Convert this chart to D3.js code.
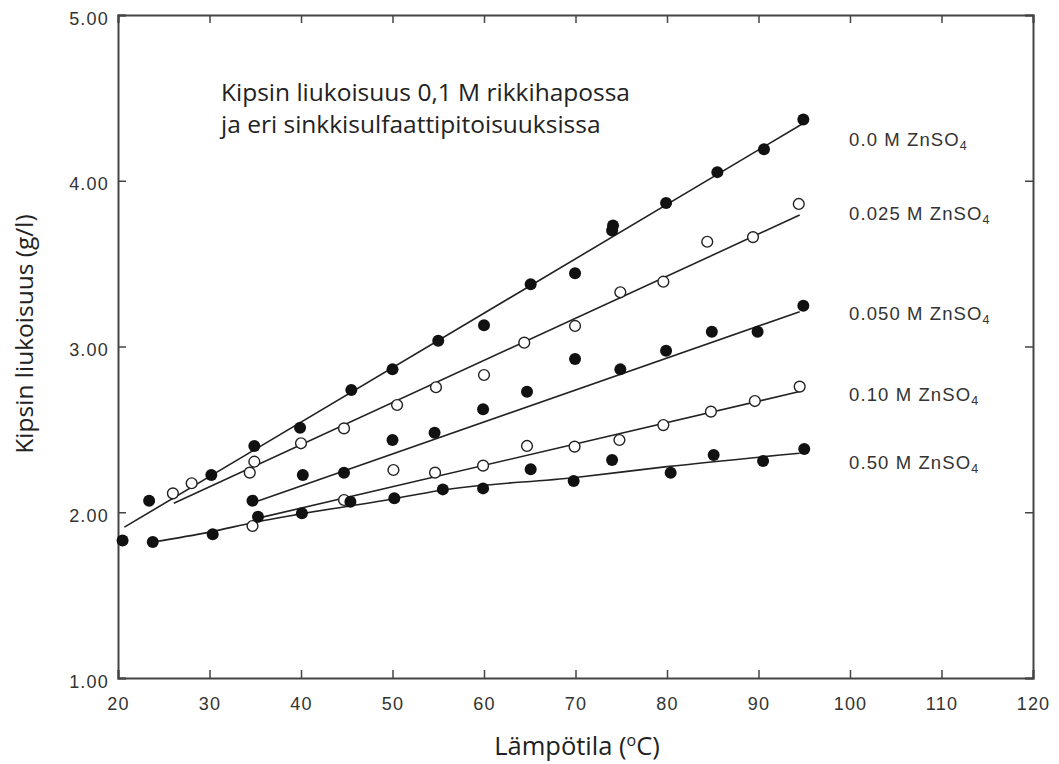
<!DOCTYPE html>
<html>
<head>
<meta charset="utf-8">
<script src="https://cdn.jsdelivr.net/npm/d3@7"></script>
<style>
  html, body { margin: 0; padding: 0; background: #fff; }
  svg { display: block; }
</style>
</head>
<body>
<svg id="chart" width="1059" height="764"></svg>
<script>
// ---- data ----
const xTicks = [20, 30, 40, 50, 60, 70, 80, 90, 100, 110, 120];
const yTicks = [1, 2, 3, 4, 5];
const yTickLabels = ["1.00", "2.00", "3.00", "4.00", "5.00"];

const seriesNames = ["0.0 M ZnSO", "0.025 M ZnSO", "0.050 M ZnSO", "0.10 M ZnSO", "0.50 M ZnSO"];
const seriesOpen = [false, true, false, true, false];
const labelValues = [4.25, 3.80, 3.20, 2.71, 2.30];

const s000 = [[23.4,2.07],[30.2,2.225],[34.9,2.40],[39.9,2.51],[45.5,2.738],[50.0,2.862],[55.0,3.035],
  [60.0,3.128],[65.1,3.375],[69.95,3.442],[74.0,3.70],[74.1,3.73],[79.9,3.866],[85.5,4.052],[90.6,4.19],[94.9,4.37]];
const s025 = [[26.0,2.114],[28.05,2.175],[34.4,2.239],[34.9,2.305],[40.0,2.416],[44.7,2.506],[50.5,2.647],
  [54.75,2.754],[60.0,2.828],[64.4,3.023],[69.95,3.124],[74.9,3.327],[79.6,3.391],[84.4,3.632],[89.4,3.66],[94.4,3.86]];
const s050 = [[34.7,2.07],[40.2,2.225],[44.7,2.239],[50.0,2.436],[54.6,2.48],[59.9,2.621],[64.7,2.727],
  [69.95,2.925],[74.9,2.862],[79.9,2.975],[84.9,3.089],[89.9,3.089],[94.9,3.246]];
const s100 = [[34.7,1.917],[44.7,2.074],[50.1,2.255],[54.65,2.239],[59.9,2.281],[64.7,2.40],[69.9,2.396],
  [74.8,2.436],[79.6,2.526],[84.8,2.607],[89.6,2.671],[94.5,2.758]];
const s500 = [[20.5,1.83],[23.8,1.82],[30.35,1.867],[35.3,1.973],[40.1,1.994],[45.4,2.064],[50.2,2.084],
  [55.5,2.138],[59.9,2.144],[65.1,2.259],[69.8,2.188],[74.0,2.315],[80.4,2.239],[85.1,2.345],[90.5,2.309],[95.0,2.382]];

const fit000 = [[20.7,1.91],[95.0,4.35]];
const fit025 = [[26.1,2.054],[94.5,3.793]];
const fit050 = [[35.3,2.068],[94.5,3.21]];
const fit100 = [[35.2,1.963],[94.5,2.728]];
const fit500 = [[23.8,1.82],[30,1.88],[35,1.94],[40,1.99],[50,2.08],[55,2.13],[70,2.21],[80,2.275],[94.5,2.356]];

const seriesPoints = [s000, s025, s050, s100, s500];
const seriesFits = [fit000, fit025, fit050, fit100, fit500];

const titleLines = ["Kipsin liukoisuus 0,1 M rikkihapossa", "ja eri sinkkisulfaattipitoisuuksissa"];

// ---- drawing ----
(function () {
const svg = d3.select("#chart");
const pL = 118, pR = 1033, pT = 15, pB = 678;
const x = d3.scaleLinear().domain([20, 120]).range([pL, pR]);
const y = d3.scaleLinear().domain([1, 5]).range([pB, pT]);

const axisColor = "#444";
const textColor = "#333";
const tickFont = "'Liberation Sans', Arial, sans-serif";

const gB = svg.append("g").attr("transform", `translate(0,${pB})`)
  .call(d3.axisBottom(x).tickValues(xTicks).tickSize(-8).tickPadding(19).tickFormat(d3.format("d")));
const gT = svg.append("g").attr("transform", `translate(0,${pT})`)
  .call(d3.axisTop(x).tickValues(xTicks).tickSize(-8).tickFormat(""));
const gL = svg.append("g").attr("transform", `translate(${pL},0)`)
  .call(d3.axisLeft(y).tickValues(yTicks).tickSize(-8).tickPadding(9).tickFormat((d, i) => yTickLabels[i]));
const gR = svg.append("g").attr("transform", `translate(${pR},0)`)
  .call(d3.axisRight(y).tickValues(yTicks).tickSize(-8).tickFormat(""));

[gB, gT, gL, gR].forEach(g => {
  g.select(".domain").attr("stroke", axisColor).attr("stroke-width", 2);
  g.selectAll(".tick line").attr("stroke", axisColor).attr("stroke-width", 1.5);
  g.selectAll(".tick text").attr("fill", textColor).attr("font-family", tickFont)
    .attr("font-size", 18).attr("letter-spacing", 1.2);
});
gL.selectAll(".tick text").attr("dy", "0.5em");

const line = d3.line().x(d => x(d[0])).y(d => y(d[1])).curve(d3.curveMonotoneX);
seriesFits.forEach(f => {
  svg.append("path").datum(f).attr("d", line)
    .attr("fill", "none").attr("stroke", "#222").attr("stroke-width", 1.6);
});

seriesPoints.forEach((pts, i) => {
  svg.append("g").selectAll("circle").data(pts).join("circle")
    .attr("cx", d => x(d[0])).attr("cy", d => y(d[1]))
    .attr("r", seriesOpen[i] ? 5.4 : 6)
    .attr("fill", seriesOpen[i] ? "#fff" : "#111")
    .attr("stroke", seriesOpen[i] ? "#222" : "none")
    .attr("stroke-width", seriesOpen[i] ? 1.4 : 0);
});

seriesNames.forEach((name, i) => {
  const t = svg.append("text")
    .attr("x", 849).attr("y", y(labelValues[i]) + 6.5)
    .attr("font-family", tickFont).attr("font-size", 18.5).attr("letter-spacing", 1.1)
    .attr("fill", textColor);
  t.append("tspan").text(name);
  t.append("tspan").attr("dy", 4).attr("font-size", 12.5).text("4");
});

const titleFont = "'Open Sans', 'Noto Sans', sans-serif";
titleLines.forEach((s, i) => {
  svg.append("text").attr("x", 221).attr("y", 101 + i * 32)
    .attr("font-family", titleFont).attr("font-size", 24.5).attr("fill", "#222").text(s);
});

const xt = svg.append("text").attr("x", 577).attr("y", 755).attr("text-anchor", "middle")
  .attr("font-family", titleFont).attr("font-size", 25.5).attr("fill", "#222");
xt.append("tspan").text("Lämpötila (");
xt.append("tspan").attr("dy", -9).attr("font-size", 16).text("o");
xt.append("tspan").attr("dy", 9).text("C)");

svg.append("text").attr("transform", "translate(33,334) rotate(-90)")
  .attr("text-anchor", "middle").attr("font-family", titleFont).attr("font-size", 24.5)
  .attr("fill", "#222").text("Kipsin liukoisuus (g/l)");
})();
</script>
</body>
</html>
